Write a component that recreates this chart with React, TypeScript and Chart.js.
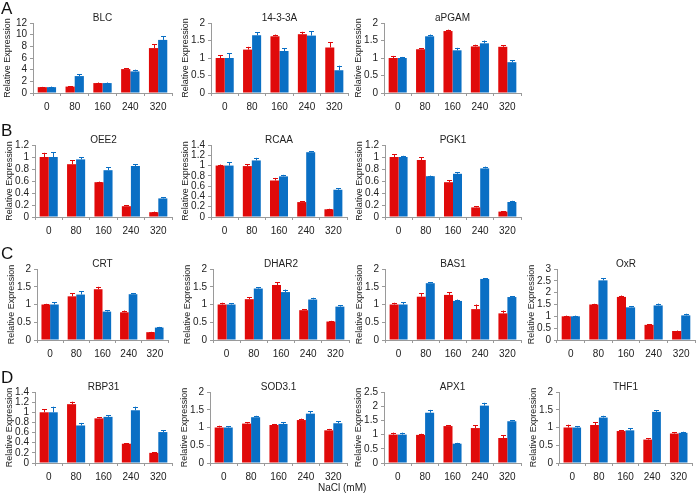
import React, { useEffect, useRef } from "react";
import { Chart, registerables } from "chart.js";
Chart.register(...registerables);

const categories = ["0", "80", "160", "240", "320"];

const blcRed = [1.0, 1.1, 1.7, 4.1, 7.7];
const blcBlue = [1.0, 2.9, 1.7, 3.7, 9.1];
const blcRedErr = [0.05, 0.1, 0.1, 0.15, 0.7];
const blcBlueErr = [0.1, 0.3, 0.1, 0.3, 0.6];

const a1433Red = [1.0, 1.24, 1.62, 1.68, 1.3];
const a1433Blue = [1.0, 1.65, 1.2, 1.64, 0.65];
const a1433RedErr = [0.08, 0.08, 0.05, 0.07, 0.15];
const a1433BlueErr = [0.14, 0.08, 0.08, 0.13, 0.13];

const apgamRed = [1.0, 1.25, 1.77, 1.33, 1.32];
const apgamBlue = [1.0, 1.62, 1.22, 1.42, 0.88];
const apgamRedErr = [0.06, 0.03, 0.04, 0.05, 0.05];
const apgamBlueErr = [0.03, 0.05, 0.07, 0.08, 0.05];

const oee2Red = [1.0, 0.88, 0.58, 0.18, 0.08];
const oee2Blue = [1.0, 0.96, 0.78, 0.85, 0.31];
const oee2RedErr = [0.07, 0.07, 0.01, 0.02, 0.01];
const oee2BlueErr = [0.08, 0.04, 0.05, 0.03, 0.02];

const rcaaRed = [1.0, 0.99, 0.71, 0.29, 0.15];
const rcaaBlue = [1.0, 1.1, 0.79, 1.26, 0.53];
const rcaaRedErr = [0.02, 0.04, 0.05, 0.02, 0.01];
const rcaaBlueErr = [0.06, 0.05, 0.03, 0.02, 0.03];

const pgk1Red = [1.0, 0.95, 0.58, 0.16, 0.09];
const pgk1Blue = [1.0, 0.68, 0.72, 0.81, 0.25];
const pgk1RedErr = [0.05, 0.05, 0.03, 0.02, 0.01];
const pgk1BlueErr = [0.02, 0.01, 0.03, 0.03, 0.02];

const crtRed = [1.0, 1.23, 1.43, 0.78, 0.22];
const crtBlue = [1.0, 1.28, 0.8, 1.29, 0.35];
const crtRedErr = [0.02, 0.08, 0.07, 0.05, 0.01];
const crtBlueErr = [0.07, 0.1, 0.04, 0.02, 0.02];

const dhar2Red = [1.0, 1.15, 1.55, 0.84, 0.52];
const dhar2Blue = [1.0, 1.45, 1.35, 1.14, 0.94];
const dhar2RedErr = [0.05, 0.05, 0.07, 0.03, 0.02];
const dhar2BlueErr = [0.03, 0.04, 0.07, 0.05, 0.04];

const bas1Red = [1.0, 1.22, 1.27, 0.87, 0.75];
const bas1Blue = [1.0, 1.6, 1.1, 1.72, 1.21];
const bas1RedErr = [0.05, 0.1, 0.07, 0.13, 0.08];
const bas1BlueErr = [0.07, 0.03, 0.04, 0.02, 0.02];

const oxrRed = [1.0, 1.5, 1.82, 0.64, 0.38];
const oxrBlue = [1.0, 2.52, 1.38, 1.46, 1.04];
const oxrRedErr = [0.03, 0.03, 0.06, 0.03, 0.02];
const oxrBlueErr = [0.03, 0.1, 0.04, 0.08, 0.07];

const rbp31Red = [1.0, 1.16, 0.88, 0.38, 0.2];
const rbp31Blue = [1.0, 0.74, 0.91, 1.04, 0.61];
const rbp31RedErr = [0.06, 0.05, 0.02, 0.01, 0.01];
const rbp31BlueErr = [0.11, 0.05, 0.03, 0.07, 0.04];

const sodRed = [1.0, 1.11, 1.07, 1.21, 0.92];
const sodBlue = [1.0, 1.29, 1.1, 1.39, 1.12];
const sodRedErr = [0.05, 0.04, 0.03, 0.04, 0.04];
const sodBlueErr = [0.04, 0.04, 0.05, 0.07, 0.05];

const apx1Red = [1.0, 0.99, 1.3, 1.23, 0.88];
const apx1Blue = [1.0, 1.77, 0.68, 2.02, 1.47];
const apx1RedErr = [0.07, 0.04, 0.03, 0.1, 0.1];
const apx1BlueErr = [0.07, 0.1, 0.03, 0.1, 0.03];

const thf1Red = [1.0, 1.07, 0.9, 0.66, 0.83];
const thf1Blue = [1.0, 1.28, 0.92, 1.44, 0.85];
const thf1RedErr = [0.08, 0.08, 0.03, 0.04, 0.04];
const thf1BlueErr = [0.03, 0.05, 0.06, 0.04, 0.03];

const RED = "#e00a0a";
const BLUE = "#0a6fc4";
const TEXT = "#222";
const AXIS = "#9a9a9a";
const FONT = "'Liberation Sans', Arial, sans-serif";

type Panel = {
  name: string; red: number[]; blue: number[]; redErr: number[]; blueErr: number[];
  max: number; step: number; axisX: number; right: number; yTop: number; yZero: number;
};

const panels: Panel[] = [
  { name: "BLC", red: blcRed, blue: blcBlue, redErr: blcRedErr, blueErr: blcBlueErr, max: 12, step: 2, axisX: 33, right: 172, yTop: 23, yZero: 93 },
  { name: "14-3-3A", red: a1433Red, blue: a1433Blue, redErr: a1433RedErr, blueErr: a1433BlueErr, max: 2, step: 0.5, axisX: 211, right: 348, yTop: 23, yZero: 93 },
  { name: "aPGAM", red: apgamRed, blue: apgamBlue, redErr: apgamRedErr, blueErr: apgamBlueErr, max: 2, step: 0.5, axisX: 384, right: 521, yTop: 23, yZero: 93 },
  { name: "OEE2", red: oee2Red, blue: oee2Blue, redErr: oee2RedErr, blueErr: oee2BlueErr, max: 1.2, step: 0.2, axisX: 35, right: 172, yTop: 145, yZero: 217 },
  { name: "RCAA", red: rcaaRed, blue: rcaaBlue, redErr: rcaaRedErr, blueErr: rcaaBlueErr, max: 1.4, step: 0.2, axisX: 211, right: 347, yTop: 145, yZero: 217 },
  { name: "PGK1", red: pgk1Red, blue: pgk1Blue, redErr: pgk1RedErr, blueErr: pgk1BlueErr, max: 1.2, step: 0.2, axisX: 385, right: 521, yTop: 145, yZero: 217 },
  { name: "CRT", red: crtRed, blue: crtBlue, redErr: crtRedErr, blueErr: crtBlueErr, max: 2, step: 0.5, axisX: 37, right: 168, yTop: 269, yZero: 340 },
  { name: "DHAR2", red: dhar2Red, blue: dhar2Blue, redErr: dhar2RedErr, blueErr: dhar2BlueErr, max: 2, step: 0.5, axisX: 213, right: 349, yTop: 269, yZero: 340 },
  { name: "BAS1", red: bas1Red, blue: bas1Blue, redErr: bas1RedErr, blueErr: bas1BlueErr, max: 2, step: 0.5, axisX: 385, right: 521, yTop: 269, yZero: 340 },
  { name: "OxR", red: oxrRed, blue: oxrBlue, redErr: oxrRedErr, blueErr: oxrBlueErr, max: 3, step: 0.5, axisX: 557, right: 695, yTop: 269, yZero: 340 },
  { name: "RBP31", red: rbp31Red, blue: rbp31Blue, redErr: rbp31RedErr, blueErr: rbp31BlueErr, max: 1.4, step: 0.2, axisX: 35, right: 172, yTop: 392, yZero: 463 },
  { name: "SOD3.1", red: sodRed, blue: sodBlue, redErr: sodRedErr, blueErr: sodBlueErr, max: 2, step: 0.5, axisX: 210, right: 347, yTop: 392, yZero: 463 },
  { name: "APX1", red: apx1Red, blue: apx1Blue, redErr: apx1RedErr, blueErr: apx1BlueErr, max: 2.5, step: 0.5, axisX: 384, right: 521, yTop: 392, yZero: 463 },
  { name: "THF1", red: thf1Red, blue: thf1Blue, redErr: thf1RedErr, blueErr: thf1BlueErr, max: 2, step: 0.5, axisX: 559, right: 692, yTop: 392, yZero: 463 },
];

const LEFT_W = 36;
const TOP_H = 20;
const BOTTOM_H = 22;
const RIGHT_PAD = 4;

const errorBarPlugin = {
  id: "errBars",
  afterDatasetsDraw(chart: any) {
    const ctx = chart.ctx;
    const ys = chart.scales.y;
    chart.data.datasets.forEach((ds: any, di: number) => {
      const meta = chart.getDatasetMeta(di);
      meta.data.forEach((el: any, i: number) => {
        const v = ds.data[i];
        const e = ds.errors[i];
        const top = ys.getPixelForValue(v + e);
        ctx.save();
        ctx.strokeStyle = ds.backgroundColor;
        ctx.lineWidth = 1;
        ctx.beginPath();
        ctx.moveTo(Math.round(el.x) + 0.5, el.y);
        ctx.lineTo(Math.round(el.x) + 0.5, top);
        ctx.moveTo(Math.round(el.x) - 2, Math.round(top) + 0.5);
        ctx.lineTo(Math.round(el.x) + 3, Math.round(top) + 0.5);
        ctx.stroke();
        ctx.restore();
      });
    });
  },
};

const textPlugin = {
  id: "panelText",
  afterDraw(chart: any) {
    const ctx = chart.ctx;
    const a = chart.chartArea;
    const title = chart.options.plugins.panelText.title;
    ctx.save();
    ctx.fillStyle = TEXT;
    ctx.font = `10px ${FONT}`;
    ctx.textAlign = "center";
    ctx.textBaseline = "middle";
    ctx.fillText(title, (a.left + a.right) / 2, a.top - 5);
    ctx.translate(a.left - 25, (a.top + a.bottom) / 2);
    ctx.rotate(-Math.PI / 2);
    ctx.font = `9px ${FONT}`;
    ctx.fillText("Relative Expression", 0, 0);
    ctx.restore();
  },
};

function BarPanel({ p }: { p: Panel }) {
  const ref = useRef<HTMLCanvasElement>(null);
  const w = p.right - p.axisX + LEFT_W + RIGHT_PAD;
  const h = p.yZero - p.yTop + TOP_H + BOTTOM_H;
  useEffect(() => {
    const chart = new Chart(ref.current as HTMLCanvasElement, {
      type: "bar",
      data: {
        labels: categories,
        datasets: [
          { data: p.red, errors: p.redErr, backgroundColor: RED, borderWidth: 0, categoryPercentage: 0.66, barPercentage: 1.0 } as any,
          { data: p.blue, errors: p.blueErr, backgroundColor: BLUE, borderWidth: 0, categoryPercentage: 0.66, barPercentage: 1.0 } as any,
        ],
      },
      options: {
        responsive: false,
        animation: false,
        devicePixelRatio: 1,
        layout: { padding: { top: TOP_H, left: 0, right: RIGHT_PAD, bottom: 0 } },
        plugins: {
          legend: { display: false },
          tooltip: { enabled: false },
          title: { display: false },
          panelText: { title: p.name },
        } as any,
        scales: {
          x: {
            afterFit: (s: any) => { s.height = BOTTOM_H; },
            grid: { display: true, drawOnChartArea: false, drawTicks: true, tickLength: 3, color: AXIS, offset: true },
            border: { display: true, color: AXIS },
            ticks: { color: TEXT, font: { size: 10, family: FONT }, padding: 5, maxRotation: 0, autoSkip: false },
          },
          y: {
            min: 0,
            max: p.max,
            afterFit: (s: any) => { s.width = LEFT_W; },
            grid: { display: true, drawOnChartArea: false, drawTicks: true, tickLength: 3, color: AXIS },
            border: { display: true, color: AXIS },
            ticks: {
              stepSize: p.step,
              autoSkip: false,
              color: TEXT,
              font: { size: 10, family: FONT },
              padding: 3,
              callback: (v: any) => String(Math.round(Number(v) * 10) / 10),
            },
          },
        },
      },
      plugins: [errorBarPlugin, textPlugin],
    });
    return () => chart.destroy();
  }, []);
  return (
    <canvas
      ref={ref}
      width={w}
      height={h}
      style={{ position: "absolute", left: p.axisX - LEFT_W, top: p.yTop - TOP_H, width: w, height: h }}
    />
  );
}

const letters = [
  { t: "A", top: 0 },
  { t: "B", top: 122 },
  { t: "C", top: 245 },
  { t: "D", top: 369 },
];

export default function App() {
  return (
    <div style={{ position: "fixed", left: 0, top: 0, width: 696, height: 495, background: "#fff", overflow: "hidden", fontFamily: FONT }}>
      {panels.map((p) => (
        <BarPanel key={p.name} p={p} />
      ))}
      {letters.map((l) => (
        <div key={l.t} style={{ position: "absolute", left: 1, top: l.top, fontSize: 17, lineHeight: "17px", color: "#111" }}>
          {l.t}
        </div>
      ))}
      <div style={{ position: "absolute", left: 318, top: 482, fontSize: 10, color: TEXT, whiteSpace: "nowrap" }}>
        NaCl (mM)
      </div>
    </div>
  );
}
